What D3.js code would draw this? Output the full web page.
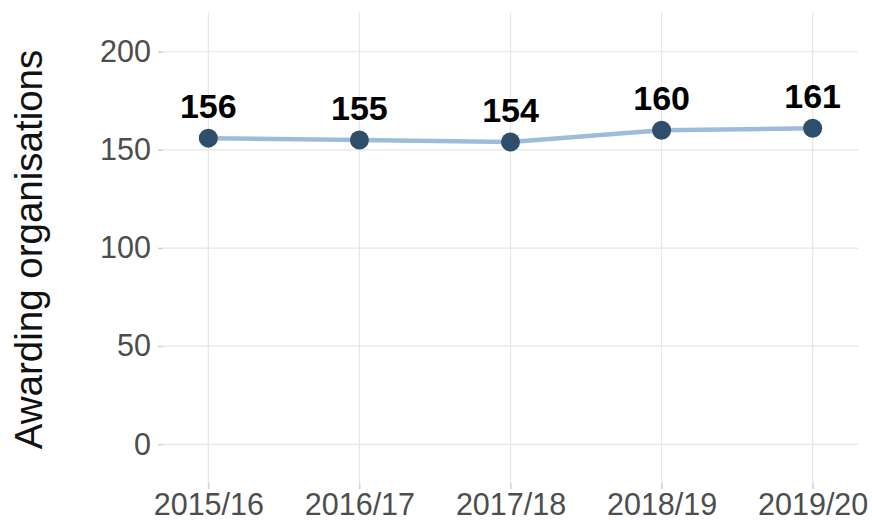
<!DOCTYPE html>
<html>
<head>
<meta charset="utf-8">
<script src="https://cdn.jsdelivr.net/npm/d3@7"></script>
<style>
  html, body { margin: 0; padding: 0; background: #fff; }
  svg { display: block; font-family: "Liberation Sans", Arial, sans-serif; }
</style>
</head>
<body>
<svg id="chart" width="872" height="520"></svg>
<script>
const categories = ["2015/16", "2016/17", "2017/18", "2018/19", "2019/20"];
const values = [156, 155, 154, 160, 161];
const yTicks = [0, 50, 100, 150, 200];
const yTitle = "Awarding organisations";

const svg = d3.select("#chart");
const panel = { left: 163, right: 858, top: 12.7, bottom: 483 };

const x = d3.scalePoint().domain(categories).range([panel.left, panel.right]).padding(0.3);
const y = d3.scaleLinear().domain([-19.7, 219.9]).range([panel.bottom, panel.top]);

// grid
const grid = svg.append("g");
grid.selectAll("line.h").data(yTicks).join("line")
  .attr("x1", panel.left - 5).attr("x2", panel.right)
  .attr("y1", d => y(d)).attr("y2", d => y(d))
  .attr("stroke", "#e6e6e6").attr("stroke-width", 1.2);
grid.selectAll("line.v").data(categories).join("line")
  .attr("x1", d => x(d)).attr("x2", d => x(d))
  .attr("y1", panel.top).attr("y2", panel.bottom + 6)
  .attr("stroke", "#e6e6e6").attr("stroke-width", 1.2);

// axes labels via d3 axes
const yAxis = svg.append("g").attr("transform", `translate(${panel.left},0)`)
  .call(d3.axisLeft(y).tickValues(yTicks).tickSize(5).tickPadding(7));
const xAxis = svg.append("g").attr("transform", `translate(0,${panel.bottom})`)
  .call(d3.axisBottom(x).tickSize(6).tickPadding(4));
[yAxis, xAxis].forEach(a => {
  a.select(".domain").remove();
  a.selectAll(".tick line").attr("stroke", "#d0d0d0").attr("stroke-width", 1.2);
  a.selectAll(".tick text").attr("fill", "#4d4d4d").attr("font-size", 30.5)
    .attr("font-family", "'Liberation Sans', Arial, sans-serif");
});
xAxis.selectAll(".tick text").attr("dy", "0.71em");

// title
svg.append("text")
  .attr("transform", `translate(42,${(43 + 456) / 2}) rotate(-90)`)
  .attr("text-anchor", "middle")
  .attr("font-size", 38.5).attr("fill", "#111")
  .text(yTitle);

const data = categories.map((c, i) => ({ c, v: values[i] }));

// line
svg.append("path").datum(data)
  .attr("fill", "none").attr("stroke", "#9dbcdc").attr("stroke-width", 4.5)
  .attr("stroke-linejoin", "round")
  .attr("d", d3.line().x(d => x(d.c)).y(d => y(d.v)));

// points
svg.selectAll("circle.pt").data(data).join("circle")
  .attr("cx", d => x(d.c)).attr("cy", d => y(d.v)).attr("r", 9.5)
  .attr("fill", "#2e4e6a");

// labels
svg.selectAll("text.lbl").data(data).join("text")
  .attr("x", d => x(d.c)).attr("y", d => y(d.v) - 20)
  .attr("text-anchor", "middle").attr("font-weight", "bold")
  .attr("font-size", 34).attr("fill", "#000")
  .text(d => d.v);
</script>
</body>
</html>
